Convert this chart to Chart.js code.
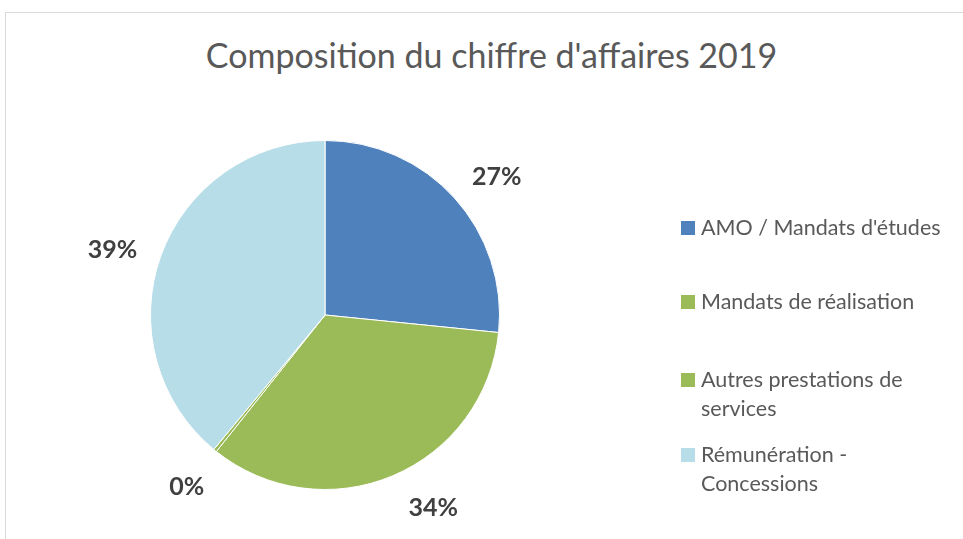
<!DOCTYPE html>
<html>
<head>
<meta charset="utf-8">
<script src="https://cdn.jsdelivr.net/npm/chart.js@4/dist/chart.umd.min.js"></script>
<style>
  body { margin: 0; background: #fff; font-family: Lato, sans-serif; }
  #wrap { position: relative; width: 963px; height: 539px; overflow: hidden; }
  #frame { position: absolute; left: 5px; top: 12px; width: 1000px; height: 600px; border: 1px solid #d9d9d9; }
  #title { position: absolute; left: 0; width: 983px; top: 34px; text-align: center; font-size: 34px; color: #595959; }
  #legend { position: absolute; left: 681px; top: 0; font-size: 21.5px; color: #595959; }
  .item { position: absolute; left: 0; width: 280px; line-height: 29px; }
  .box { position: absolute; left: 0; top: 8px; width: 14px; height: 14px; }
  .txt { position: absolute; left: 20px; white-space: nowrap; }
  canvas { position: absolute; left: 0; top: 0; }
</style>
</head>
<body>
<div id="wrap">
  <div id="frame"></div>
  <div id="title">Composition du chiffre d'affaires 2019</div>
  <canvas id="pie" width="963" height="539"></canvas>
  <div id="legend"></div>
</div>
<script>
var labels = ["AMO / Mandats d'études", "Mandats de réalisation", "Autres prestations de services", "Rémunération - Concessions"];
var legendLines = [["AMO / Mandats d'études"], ["Mandats de réalisation"], ["Autres prestations de", "services"], ["Rémunération -", "Concessions"]];
var values = [26.6, 34.1, 0.3, 39.0];
var colors = ["#4f81bd", "#9bbb59", "#9bbb59", "#b7dde8"];
var legendTops = [213, 287, 365, 440];
// small nudges of the percentage labels (excel "best fit" placement)
var labelNudge = [[9, 9], [23, -9], [0, 1], [-6, 9]];

// percentage labels outside the slices
var outsideLabels = {
  id: 'outsideLabels',
  afterDatasetsDraw: function(chart) {
    var ctx = chart.ctx;
    var meta = chart.getDatasetMeta(0);
    var total = values.reduce(function(a, b) { return a + b; }, 0);
    ctx.save();
    ctx.font = "bold 25px Lato";
    ctx.fillStyle = "#404040";
    ctx.textAlign = "center";
    ctx.textBaseline = "middle";
    meta.data.forEach(function(arc, i) {
      var mid = (arc.startAngle + arc.endAngle) / 2;
      var r = arc.outerRadius + 45;
      var x = arc.x + Math.cos(mid) * r + labelNudge[i][0];
      var y = arc.y + Math.sin(mid) * r + labelNudge[i][1];
      ctx.fillText(Math.round(values[i] / total * 100) + "%", x, y);
    });
    ctx.restore();
  }
};

var ctx = document.getElementById("pie").getContext("2d");
var pieChart = new Chart(ctx, {
  type: "pie",
  data: {
    labels: labels,
    datasets: [{
      data: values,
      backgroundColor: colors,
      borderColor: "#ffffff",
      borderWidth: 1
    }]
  },
  options: {
    responsive: false,
    animation: false,
    layout: { padding: { left: 0, right: 313, top: 140, bottom: 49 } },
    plugins: {
      legend: { display: false },
      title: { display: false },
      tooltip: { enabled: false }
    }
  },
  plugins: [outsideLabels]
});

var legend = document.getElementById("legend");
legendLines.forEach(function(lines, i) {
  var item = document.createElement("div");
  item.className = "item";
  item.style.top = legendTops[i] + "px";
  var box = document.createElement("div");
  box.className = "box";
  box.style.background = colors[i];
  var txt = document.createElement("div");
  txt.className = "txt";
  txt.innerHTML = lines.join("<br>");
  item.appendChild(box);
  item.appendChild(txt);
  legend.appendChild(item);
});
</script>
</body>
</html>
